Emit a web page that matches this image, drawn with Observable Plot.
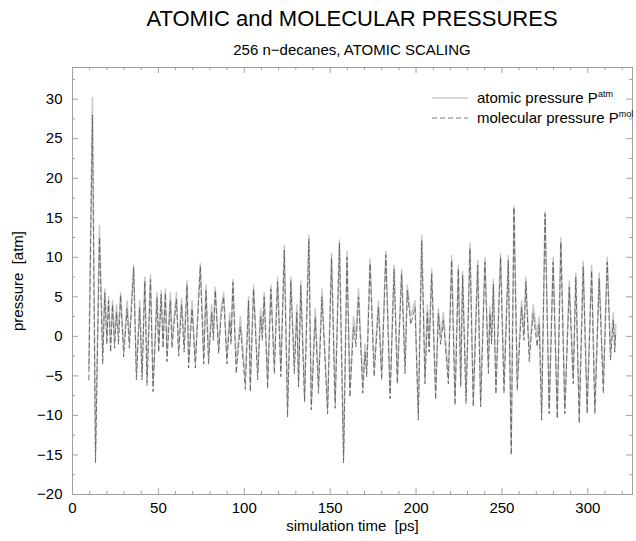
<!DOCTYPE html>
<html>
<head>
<meta charset="utf-8">
<script src="https://cdn.jsdelivr.net/npm/d3@7"></script>
<script src="https://cdn.jsdelivr.net/npm/@observablehq/plot@0.6"></script>
<style>
  html, body { margin: 0; padding: 0; background: #fff; }
  #wrap { position: relative; width: 636px; height: 541px; font-family: "Liberation Sans", Arial, sans-serif; }
  #overlay { position: absolute; left: 0; top: 0; pointer-events: none; }
</style>
</head>
<body>
<div id="wrap">
  <svg id="overlay" width="636" height="140" font-family="Liberation Sans, Arial, sans-serif">
    <text x="352" y="26" text-anchor="middle" font-size="22">ATOMIC and MOLECULAR PRESSURES</text>
    <text x="352" y="55" text-anchor="middle" font-size="15">256 n−decanes, ATOMIC SCALING</text>
    <line x1="432" x2="468" y1="98" y2="98" stroke="#c8c8c8" stroke-width="1.5"></line>
    <line x1="432" x2="468" y1="118" y2="118" stroke="#555" stroke-width="0.8" stroke-dasharray="5,3"></line>
    <text x="477" y="103" font-size="15">atomic pressure P<tspan dy="-6" font-size="9">atm</tspan></text>
    <text x="477" y="123" font-size="15">molecular pressure P<tspan dy="-6" font-size="9">mol</tspan></text>
  </svg>
</div>
<script>
// simulation time [ps]
const times = [
  9.5, 11.6, 13.4, 15.7, 17.6, 18.8, 20.0, 21.0, 22.2, 23.3, 24.5, 25.6, 26.8, 28.0, 29.8, 31.8, 33.1, 35.6, 37.2, 39.1,
  40.5, 42.1, 43.4, 45.4, 46.9, 49.2, 50.2, 51.6, 52.7, 54.1, 55.0, 57.0, 57.9, 60.5, 61.8, 63.5, 65.0, 66.7, 67.6, 69.6,
  71.5, 74.4, 76.4, 77.7, 79.2, 81.0, 82.0, 83.1, 85.1, 86.5, 88.0, 89.9, 91.5, 92.3, 93.4, 95.3, 97.7, 100.6, 102.5, 103.5,
  105.4, 107.8, 109.5, 110.5, 111.6, 113.6, 115.5, 117.5, 119.4, 121.3, 123.3, 125.2, 127.1, 129.1, 130.6, 131.6, 132.9, 135.1, 137.6, 139.0,
  141.3, 143.2, 145.2, 148.5, 150.8, 152.9, 155.4, 157.8, 159.8, 161.5, 163.6, 165.0, 166.5, 169.0, 170.3, 171.3, 173.2, 175.6, 178.1, 180.0,
  182.4, 184.9, 187.2, 189.1, 191.6, 193.6, 194.9, 196.9, 199.4, 201.3, 203.3, 205.2, 206.6, 207.6, 209.1, 211.4, 213.0, 214.3, 215.9, 218.8,
  220.7, 222.7, 224.6, 226.0, 227.1, 229.1, 231.4, 233.3, 235.9, 237.6, 240.1, 242.1, 243.0, 244.0, 245.0, 246.5, 249.2, 251.2, 253.7, 255.4,
  257.0, 258.9, 261.4, 262.8, 263.9, 265.9, 268.2, 270.5, 271.7, 273.1, 275.1, 277.5, 279.8, 282.2, 284.3, 286.6, 289.2, 291.5, 293.0, 295.0,
  297.3, 299.6, 302.2, 304.1, 306.6, 309.0, 311.3, 313.2, 314.8, 315.7, 316.3
];
// molecular pressure P^mol [atm]
const molecular = [
  -5.5, 28.0, -16.0, 12.5, -3.5, 5.5, -1.0, 4.5, -2.0, 4.0, -1.5, 3.0, -1.0, 5.2, -2.6, 3.5, -1.5, 8.7, -5.5, 3.6,
  -5.5, 7.0, -6.2, 7.2, -7.0, 4.9, -2.0, 5.3, -1.5, 5.5, -3.2, 4.5, -1.5, 4.7, -2.5, 4.0, -2.0, 6.5, -4.0, 3.5,
  -4.0, 8.9, -3.5, 5.8, -3.5, 3.0, -0.5, 5.8, -2.2, 2.5, 5.0, -3.5, 2.0, -1.0, 6.8, -4.7, 1.2, -6.7, 4.5, -7.0,
  6.0, -5.5, 2.5, -0.5, 5.0, -6.6, 6.0, -4.7, 6.9, -5.1, 10.9, -10.2, 7.0, -4.7, 3.0, -6.4, 6.4, -8.3, 12.3, -9.3,
  2.4, -7.2, 5.0, -9.8, 9.9, -9.1, 11.8, -16.0, 10.0, -7.7, 1.2, -1.3, 5.0, -7.2, -2.0, -5.1, 9.2, -5.1, 3.7, -5.5,
  10.3, -7.9, 8.5, -6.0, 7.9, -4.7, 5.8, 1.5, 3.7, -10.6, 12.1, -6.0, 3.0, -2.0, 7.9, -8.0, 2.9, -1.0, 2.0, -6.0,
  9.6, -8.7, 8.5, -6.4, 7.7, -8.5, 11.1, -8.9, 9.0, -8.9, 9.4, -4.7, 2.9, -1.0, 6.6, -7.3, 10.0, -7.2, 9.6, -15.0,
  16.3, -6.8, 3.7, -0.5, 6.9, -3.2, 2.9, -1.3, 1.5, -10.6, 15.5, -9.8, 9.4, -10.4, 11.9, -9.8, 6.2, -6.0, 7.5, -11.0,
  8.8, -9.8, 8.3, -9.8, 7.3, -7.2, 9.4, -3.0, 2.0, -2.0, 0.5
];
// atomic pressure P^atm [atm]
const atomic = [
  -4.0, 30.2, -14.5, 14.0, -2.0, 6.0, 0.0, 5.0, -1.0, 4.5, -0.5, 4.0, 0.5, 5.5, -1.5, 4.5, -0.5, 9.0, -4.5, 4.5,
  -4.5, 7.5, -5.0, 7.8, -6.0, 5.5, -1.0, 5.8, -0.5, 6.0, -2.0, 5.5, -0.5, 5.5, -1.5, 4.8, -1.0, 7.0, -3.0, 4.5,
  -3.0, 9.2, -2.5, 6.5, -2.5, 4.0, 0.5, 6.2, -1.5, 3.5, 5.5, -2.5, 3.0, 0.0, 7.2, -3.5, 2.5, -5.5, 5.0, -6.0,
  6.5, -4.5, 3.5, 0.5, 5.5, -5.5, 6.5, -3.5, 7.5, -4.0, 11.5, -9.0, 7.5, -3.5, 4.0, -5.5, 7.0, -7.5, 12.8, -8.5,
  3.5, -6.0, 6.0, -9.0, 10.5, -8.0, 12.2, -15.0, 10.8, -6.5, 2.5, 0.0, 6.0, -6.0, -1.0, -4.0, 9.8, -4.0, 4.5, -4.5,
  10.8, -7.0, 9.0, -5.0, 8.5, -3.5, 6.5, 2.5, 4.5, -9.5, 12.8, -5.0, 4.0, -1.0, 8.5, -7.0, 3.5, 0.0, 3.0, -5.0,
  10.2, -7.5, 9.0, -5.5, 8.2, -7.5, 11.8, -8.0, 9.6, -8.0, 10.0, -3.5, 3.8, 0.0, 7.2, -6.2, 10.5, -6.0, 10.2, -14.0,
  16.5, -5.5, 4.5, 0.5, 7.5, -2.0, 4.0, 0.0, 2.5, -9.5, 15.8, -8.8, 10.0, -9.5, 12.5, -8.8, 7.0, -5.0, 8.0, -10.0,
  9.5, -9.0, 9.0, -8.8, 8.0, -6.0, 10.0, -2.0, 3.0, -1.0, 1.5
];
// tick labels
const xMajor = [0, 50, 100, 150, 200, 250, 300];
const xMinor = [10, 20, 30, 40, 60, 70, 80, 90, 110, 120, 130, 140, 160, 170, 180, 190, 210, 220, 230, 240, 260, 270, 280, 290, 310, 320];
const yMajor = [-20, -15, -10, -5, 0, 5, 10, 15, 20, 25, 30];
const yMinor = [-17.5, -12.5, -7.5, -2.5, 2.5, 7.5, 12.5, 17.5, 22.5, 27.5, 32.5];

const data = times.map((t, i) => ({t, mol: molecular[i], atm: atomic[i]}));

const W = 636, H = 541, mL = 72, mR = 4, mT = 67, mB = 47;
const pw = W - mL - mR, ph = H - mT - mB;
const frameColor = "#a0a0a0";
const majorLen = 6, minorLen = 3;

const chart = Plot.plot({
  width: W, height: H,
  marginLeft: mL, marginRight: mR, marginTop: mT, marginBottom: mB,
  style: {fontFamily: "Liberation Sans, Arial, sans-serif", fontSize: "15px", background: "transparent"},
  x: {domain: [0, 326]},
  y: {domain: [-20, 34]},
  marks: [
    Plot.frame({stroke: frameColor}),
    // inward ticks: bottom, top, left, right
    Plot.tickX(xMajor, {x: d => d, insetTop: ph - majorLen, stroke: frameColor}),
    Plot.tickX(xMinor, {x: d => d, insetTop: ph - minorLen, stroke: frameColor}),
    Plot.tickX(xMajor, {x: d => d, insetBottom: ph - majorLen, stroke: frameColor}),
    Plot.tickX(xMinor, {x: d => d, insetBottom: ph - minorLen, stroke: frameColor}),
    Plot.tickY(yMajor, {y: d => d, insetRight: pw - majorLen, stroke: frameColor}),
    Plot.tickY(yMinor, {y: d => d, insetRight: pw - minorLen, stroke: frameColor}),
    Plot.tickY(yMajor, {y: d => d, insetLeft: pw - majorLen, stroke: frameColor}),
    Plot.tickY(yMinor, {y: d => d, insetLeft: pw - minorLen, stroke: frameColor}),
    Plot.axisX(xMajor, {tickSize: 0, tickPadding: 8, fontSize: 15, label: null}),
    Plot.axisY(yMajor, {tickSize: 0, tickPadding: 10, fontSize: 15, label: null}),
    Plot.line(data, {x: "t", y: "atm", stroke: "#c8c8c8", strokeWidth: 1.5}),
    Plot.line(data, {x: "t", y: "mol", stroke: "#555", strokeWidth: 0.8, strokeDasharray: "5,3"}),
    Plot.text(["simulation time\u00a0\u00a0[ps]"], {frameAnchor: "bottom", dy: 36, fontSize: 15, fill: "#000"}),
    Plot.text(["pressure\u00a0\u00a0[atm]"], {frameAnchor: "left", dx: -54, rotate: -90, textAnchor: "middle", fontSize: 15, fill: "#000"})
  ]
});
document.getElementById("wrap").prepend(chart);
</script>
</body>
</html>
